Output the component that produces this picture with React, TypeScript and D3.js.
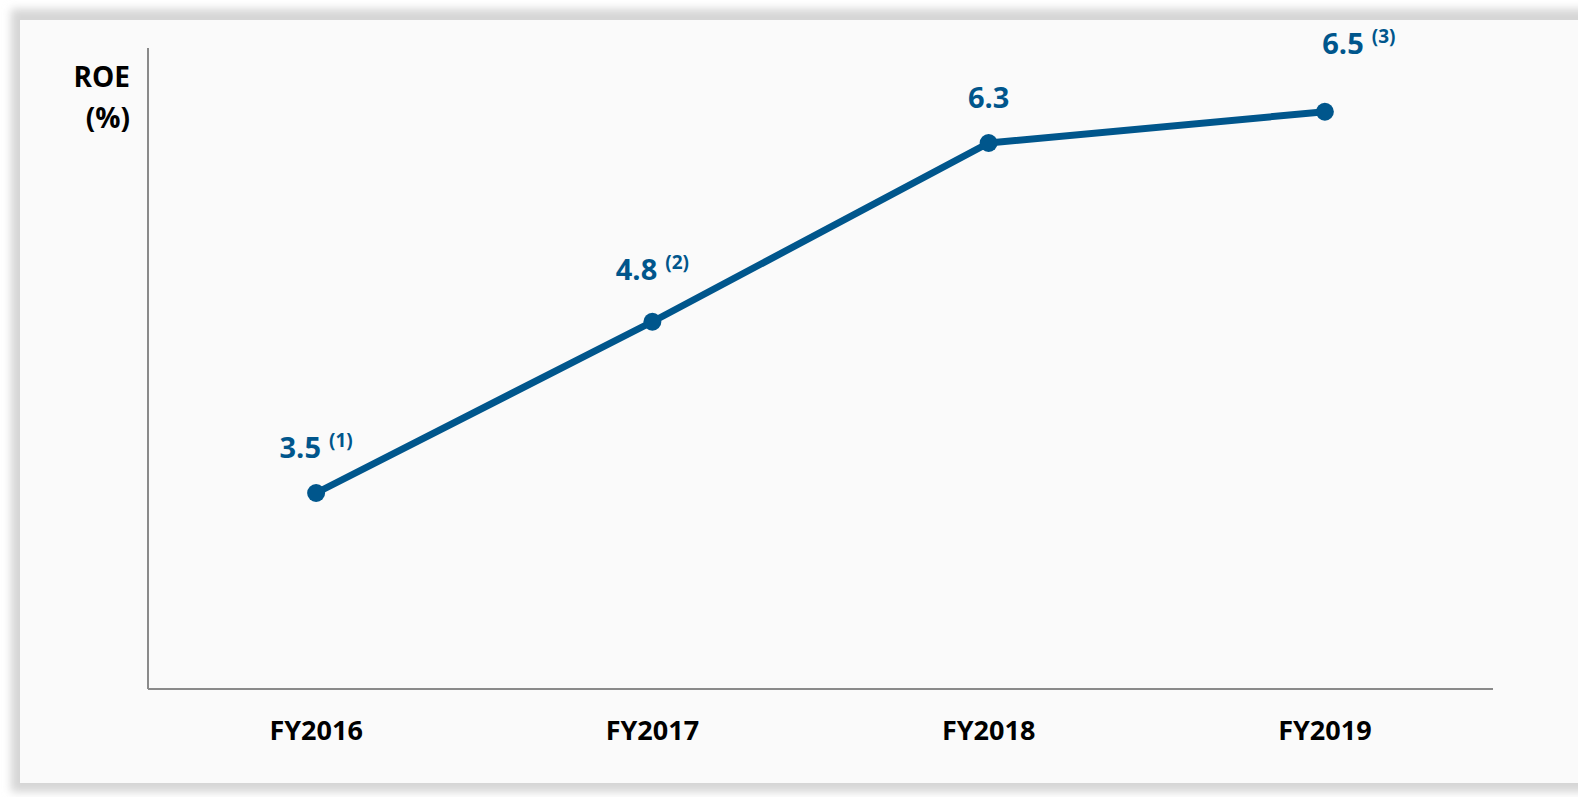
import React from 'react';
import * as d3 from 'd3';

const years = ['FY2016', 'FY2017', 'FY2018', 'FY2019'];
const roe = [3.46, 4.83, 6.26, 6.51];
const roeLabels = ['3.5', '4.8', '6.3', '6.5'];
const notes = ['(1)', '(2)', '', '(3)'];

const W = 1578;
const H = 797;
const blue = '#00568c';
const font = '"Open Sans", sans-serif';

const App = () => {
    const margin = { top: 48, right: 85, bottom: 108, left: 148 };
    const plotBottom = H - margin.bottom;

    const x = d3.scaleBand().domain(years).range([margin.left, W - margin.right]);
    const y = d3.scaleLinear().domain([2, 7]).range([675.5, 50.5]);
    const cx = (d: string) => (x(d) ?? 0) + x.bandwidth() / 2;

    const line = d3.line<number>()
        .x((_, i) => cx(years[i]))
        .y(d => y(d));

    // the last label sits up and to the right of its point
    const nudge = (i: number) => i === 3 ? { dx: 34, dy: -58 } : i === 1 ? { dx: 0, dy: -42 } : { dx: 0, dy: -35 };

    return (
        <svg width={W} height={H} style={{ position: 'absolute', left: 0, top: 0, background: '#fff' }}>
            <defs>
                <filter id="shadow" x="-5%" y="-5%" width="110%" height="110%">
                    <feGaussianBlur stdDeviation="4" />
                </filter>
            </defs>
            <rect x={11} y={9} width={W + 40} height={H - 14} fill="#d6d6d6" filter="url(#shadow)" />
            <rect x={20} y={20} width={W + 40} height={763} fill="#fafafa" />

            <line x1={margin.left} x2={margin.left} y1={margin.top} y2={plotBottom} stroke="#8a8a8a" strokeWidth={2} />
            <line x1={margin.left} x2={W - margin.right} y1={plotBottom} y2={plotBottom} stroke="#8a8a8a" strokeWidth={2} />

            <text x={130} y={87} textAnchor="end" fontFamily={font} fontWeight="bold" fontSize={28} fill="#000">ROE</text>
            <text x={130} y={128} textAnchor="end" fontFamily={font} fontWeight="bold" fontSize={28} fill="#000">(%)</text>

            {years.map(d => (
                <text key={d} x={cx(d)} y={740} textAnchor="middle" fontFamily={font} fontWeight="bold" fontSize={27} fill="#000">{d}</text>
            ))}

            <path d={line(roe) ?? ''} fill="none" stroke={blue} strokeWidth={7} strokeLinejoin="round" />
            {roe.map((v, i) => (
                <circle key={i} cx={cx(years[i])} cy={y(v)} r={9} fill={blue} />
            ))}

            {roe.map((v, i) => {
                const n = nudge(i);
                return (
                    <text key={i} x={cx(years[i]) + n.dx} y={y(v) + n.dy} textAnchor="middle" fontFamily={font} fontWeight="bold" fontSize={29} fill={blue}>
                        <tspan>{roeLabels[i]}</tspan>
                        {notes[i] && <tspan dx={8} dy={-11} fontSize={19}>{notes[i]}</tspan>}
                    </text>
                );
            })}
        </svg>
    );
};

export default App;
